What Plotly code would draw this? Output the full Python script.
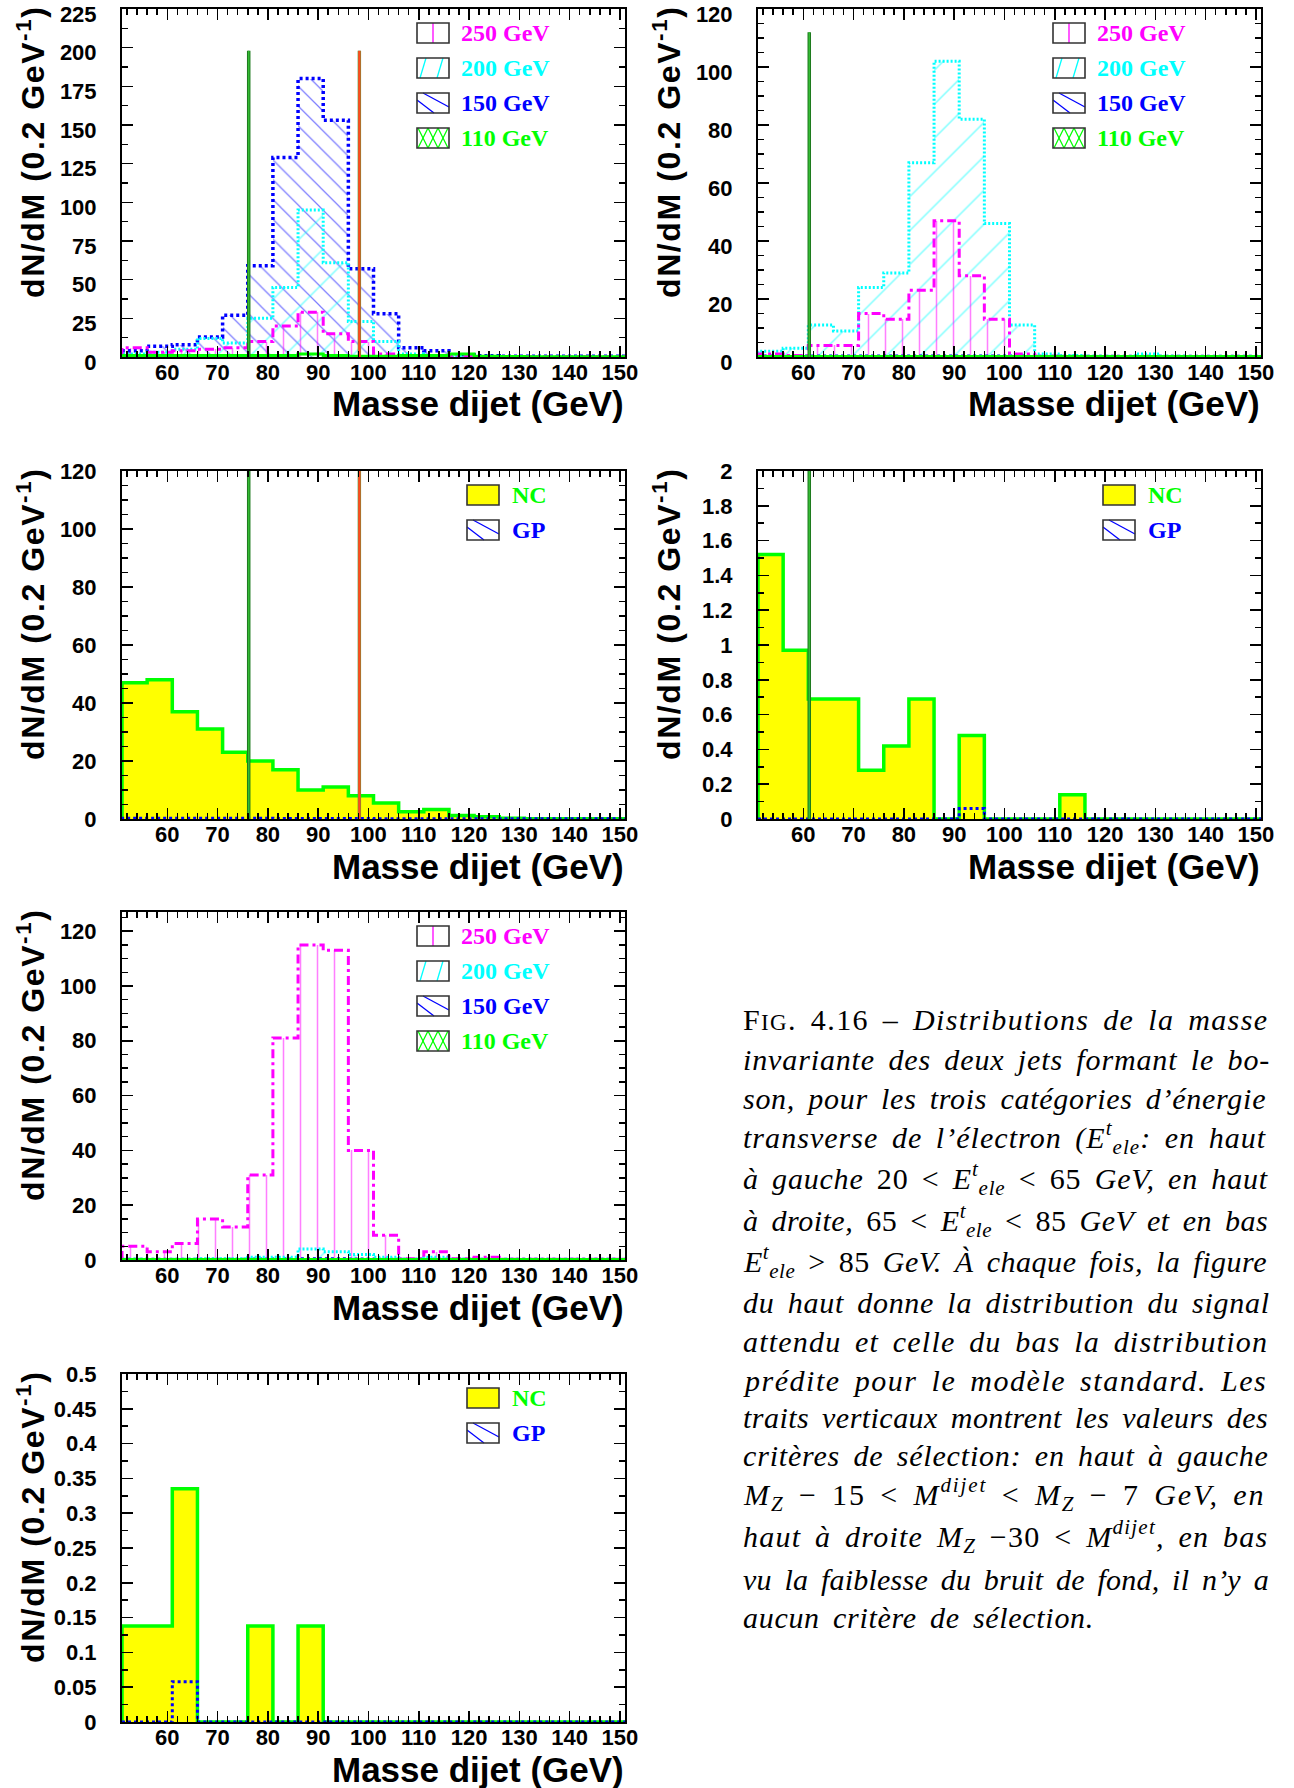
import plotly.graph_objects as go

# ---------------- data ----------------
BIN_LOW = [51, 56, 61, 66, 71, 76, 81, 86, 91, 96, 101, 106, 111, 116, 121, 126, 131, 136, 141, 146]
BIN_WIDTH = 5
X_RANGE = [51, 151]
MZ = 91.19

# top-left: 20 < Et < 65 GeV, signal
SIG250_A = [6, 3, 4, 5, 6, 10, 20, 29, 15, 10, 2, 1, 0.5, 0.5, 0.3, 0.2, 0.2, 0.1, 0.1, 0.1]
SIG200_A = [2, 3, 5, 12, 9, 25, 45, 95, 61, 23, 10, 2, 1, 0.5, 0.3, 0.2, 0.1, 0.1, 0.1, 0.1]
SIG150_A = [4, 7, 8, 13, 27, 59, 129, 180, 153, 57, 28, 6, 4, 1.5, 0.8, 0.5, 0.5, 0.5, 0.5, 0.5]
SIG110_A = [1, 1, 1, 1, 1, 1, 1, 2, 1, 0.5, 0.5, 1, 1, 2, 0.5, 0.3, 0.2, 0.2, 0.2, 0.2]
# top-right: 65 < Et < 85 GeV, signal
SIG250_B = [1, 0.5, 4, 4, 15, 13, 23, 47, 28, 13, 1, 0.3, 0, 0, 0, 0, 0, 0, 0, 0]
SIG200_B = [2, 3, 11, 9, 24, 29, 67, 102, 82, 46, 11, 1, 0.5, 0.3, 0.2, 1, 0.3, 0.2, 0.2, 0.2]
SIG150_B = [0.3, 0.3, 0.3, 0.3, 0.3, 0.3, 0.3, 0.3, 0.3, 0.3, 0.3, 0.2, 0.2, 0.2, 0.2, 0.2, 0.2, 0.2, 0.2, 0.2]
SIG110_B = [0.2, 0.2, 0.2, 0.2, 0.2, 0.2, 0.2, 0.2, 0.2, 0.2, 0.2, 0.2, 0.2, 0.2, 0.2, 0.2, 0.2, 0.2, 0.2, 0.2]
# Et > 85 GeV, signal
SIG250_C = [5, 3, 6, 15, 12, 31, 81, 115, 113, 40, 9, 0.5, 3, 0.5, 1, 0.3, 0.3, 0.3, 0.3, 0.3]
SIG200_C = [0.3, 0.2, 0.3, 0.5, 0.5, 1, 1, 4, 3, 2, 1, 0.3, 1, 0.3, 0.2, 0.1, 0.1, 0.1, 0.1, 0.1]
SIG150_C = [0.2, 0.2, 0.2, 0.2, 0.2, 0.3, 0.3, 0.4, 0.4, 0.3, 0.2, 0.2, 0.2, 0.2, 0.2, 0.2, 0.2, 0.2, 0.2, 0.2]
SIG110_C = [0.2, 0.2, 0.2, 0.2, 0.2, 0.2, 0.2, 0.2, 0.2, 0.2, 0.2, 0.2, 0.2, 0.2, 0.2, 0.2, 0.2, 0.2, 0.2, 0.2]
# standard model background
NC_A = [47, 48, 37, 31, 23, 20, 17, 10, 11, 8, 5.5, 2.5, 3.3, 1.2, 0.8, 0.3, 0.1, 0.1, 0.05, 0.05]
GP_A = [0.3, 0.3, 0.3, 0.3, 0.3, 0.3, 0.2, 0.2, 0.2, 0.2, 0.1, 0.1, 0.1, 0.1, 0.1, 0.1, 0.1, 0.1, 0.1, 0.1]
NC_B = [1.52, 0.97, 0.69, 0.69, 0.28, 0.42, 0.69, 0, 0.48, 0, 0, 0, 0.14, 0, 0, 0, 0, 0, 0, 0]
GP_B = [0, 0, 0, 0, 0, 0, 0, 0, 0.06, 0, 0, 0, 0, 0, 0, 0, 0, 0, 0, 0]
NC_C = [0.138, 0.138, 0.335, 0, 0, 0.138, 0, 0.138, 0, 0, 0, 0, 0, 0, 0, 0, 0, 0, 0, 0]
GP_C = [0, 0, 0.058, 0, 0, 0, 0, 0, 0, 0, 0, 0, 0, 0, 0, 0, 0, 0, 0, 0]

CUTS_A = [MZ - 15, MZ + 7]
CUTS_B = [MZ - 30]
CUT_TOP_SIG_A = 198
CUT_TOP_SIG_B = 112
CUT_TOP_BKG_A = 120
CUT_TOP_BKG_B = 2

SIGNAL_LABELS = ["250 GeV", "200 GeV", "150 GeV", "110 GeV"]
BKG_LABELS = ["NC", "GP"]
Y_TITLE = "dN/dM (0.2 GeV<sup>-1</sup>)"
X_TITLE = "Masse dijet (GeV)"

CAPTION = [
    "F<span style='font-size:23px'>IG</span>. 4.16 – <i>Distributions de la masse</i>",
    "<i>invariante des deux jets formant le bo-</i>",
    "<i>son, pour les trois catégories d’énergie</i>",
    "<i>transverse de l’électron (E<sup>t</sup><sub>ele</sub>: en haut</i>",
    "<i>à gauche</i> 20 &lt; <i>E<sup>t</sup><sub>ele</sub></i> &lt; 65 <i>GeV, en haut</i>",
    "<i>à droite,</i> 65 &lt; <i>E<sup>t</sup><sub>ele</sub></i> &lt; 85 <i>GeV et en bas</i>",
    "<i>E<sup>t</sup><sub>ele</sub></i> &gt; 85 <i>GeV. À chaque fois, la figure</i>",
    "<i>du haut donne la distribution du signal</i>",
    "<i>attendu et celle du bas la distribution</i>",
    "<i>prédite pour le modèle standard. Les</i>",
    "<i>traits verticaux montrent les valeurs des</i>",
    "<i>critères de sélection: en haut à gauche</i>",
    "<i>M<sub>Z</sub></i> − 15 &lt; <i>M<sup>dijet</sup></i> &lt; <i>M<sub>Z</sub></i> − 7 <i>GeV, en</i>",
    "<i>haut à droite M<sub>Z</sub></i> −30 &lt; <i>M<sup>dijet</sup>, en bas</i>",
    "<i>vu la faiblesse du bruit de fond, il n’y a</i>",
    "<i>aucun critère de sélection.</i>",
]

# ---------------- layout / style ----------------
W, H = 1294, 1788
OFF = 0
PW, PH = 503, 348
PANELS = {1: (122, 9), 2: (758, 9), 3: (122, 471), 4: (758, 471), 5: (122, 912), 6: (122, 1374)}
Y_AXES = {
    1: dict(range=[0, 225], dtick=25, minor=12.5, shift=5),
    2: dict(range=[0, 120], dtick=20, minor=5, shift=5),
    3: dict(range=[0, 120], dtick=20, minor=5, shift=0),
    4: dict(range=[0, 2], dtick=0.2, minor=0.1, shift=0),
    5: dict(range=[0, 127], dtick=20, minor=5, shift=0),
    6: dict(range=[0, 0.5], dtick=0.05, minor=0.025, shift=0),
}
MAG, CYA, BLU, GRN, YEL = "#ff00ff", "#00ffff", "#0000ff", "#00ff00", "#ffff00"
SANS = "Liberation Sans"
SERIF = "Liberation Serif"

STYLE = {
    "250": dict(color=MAG, shape="|", size=17, sol=0.09, dash="9px,4px,3px,4px", lw=3),
    "200": dict(color=CYA, shape="/", size=24, sol=0.06, dash="2px,2px", lw=3),
    "150": dict(color=BLU, shape="\\", size=14, sol=0.09, dash="3px,3px", lw=3.5),
    "110": dict(color=GRN, shape="x", size=10, sol=0.1, dash="solid", lw=3),
    "GP": dict(color=BLU, shape="\\", size=14, sol=0.09, dash="3px,3px", lw=3),
}


def PX(x):
    return (x - OFF) / W


def PY(y):
    return 1 - (y - OFF) / H


centers = [b + BIN_WIDTH / 2 for b in BIN_LOW]


def step_xy(vals):
    xs = [BIN_LOW[0]] + BIN_LOW + [BIN_LOW[-1] + BIN_WIDTH]
    ys = [0] + list(vals) + [0]
    return xs, ys


fig = go.Figure()


def ax(i):
    return ("x" if i == 1 else f"x{i}"), ("y" if i == 1 else f"y{i}")


def hatched(i, vals, key):
    s = STYLE[key]
    xa, ya = ax(i)
    fig.add_trace(go.Bar(
        x=centers, y=vals, width=BIN_WIDTH, xaxis=xa, yaxis=ya, showlegend=False,
        marker=dict(color="rgba(0,0,0,0)", line=dict(width=0),
                    pattern=dict(shape=s["shape"], fgcolor=s["color"], bgcolor="rgba(0,0,0,0)",
                                 size=s["size"], solidity=s["sol"], fillmode="overlay")),
        hoverinfo="skip"))


def outline(i, vals, key):
    s = STYLE[key]
    xa, ya = ax(i)
    xs, ys = step_xy(vals)
    fig.add_trace(go.Scatter(x=xs, y=ys, mode="lines", xaxis=xa, yaxis=ya, showlegend=False,
                             line=dict(color=s["color"], width=s["lw"], dash=s["dash"], shape="hv"),
                             hoverinfo="skip"))


def filled(i, vals):
    xa, ya = ax(i)
    xs, ys = step_xy(vals)
    fig.add_trace(go.Scatter(x=xs, y=ys, mode="lines", xaxis=xa, yaxis=ya, showlegend=False,
                             fill="tozeroy", fillcolor=YEL,
                             line=dict(color=GRN, width=3.5, shape="hv"), hoverinfo="skip"))


def cut_line(i, xval, top, kind):
    xa, ya = ax(i)
    if kind == "low":
        fig.add_trace(go.Scatter(x=[xval, xval], y=[0, top], mode="lines", xaxis=xa, yaxis=ya,
                                 showlegend=False, line=dict(color="#1f7a1f", width=3.5), hoverinfo="skip"))
        fig.add_trace(go.Scatter(x=[xval, xval], y=[0, top], mode="lines", xaxis=xa, yaxis=ya,
                                 showlegend=False, line=dict(color="#33bb33", width=1.5), hoverinfo="skip"))
    else:
        fig.add_trace(go.Scatter(x=[xval, xval], y=[0, top], mode="lines", xaxis=xa, yaxis=ya,
                                 showlegend=False, line=dict(color="#4aa040", width=3.4), hoverinfo="skip"))
        fig.add_trace(go.Scatter(x=[xval, xval], y=[0, top], mode="lines", xaxis=xa, yaxis=ya,
                                 showlegend=False, line=dict(color="#ff4a1e", width=2.4), hoverinfo="skip"))


def signal_panel(i, s250, s200, s150, s110):
    hatched(i, s150, "150")
    hatched(i, s200, "200")
    hatched(i, s250, "250")
    hatched(i, s110, "110")
    outline(i, s150, "150")
    outline(i, s200, "200")
    outline(i, s250, "250")
    outline(i, s110, "110")


def bkg_panel(i, nc, gp):
    filled(i, nc)
    hatched(i, gp, "GP")
    outline(i, gp, "GP")


signal_panel(1, SIG250_A, SIG200_A, SIG150_A, SIG110_A)
cut_line(1, CUTS_A[0], CUT_TOP_SIG_A, "low")
cut_line(1, CUTS_A[1], CUT_TOP_SIG_A, "high")
signal_panel(2, SIG250_B, SIG200_B, SIG150_B, SIG110_B)
cut_line(2, CUTS_B[0], CUT_TOP_SIG_B, "low")
bkg_panel(3, NC_A, GP_A)
cut_line(3, CUTS_A[0], CUT_TOP_BKG_A, "low")
cut_line(3, CUTS_A[1], CUT_TOP_BKG_A, "high")
bkg_panel(4, NC_B, GP_B)
cut_line(4, CUTS_B[0], CUT_TOP_BKG_B, "low")
signal_panel(5, SIG250_C, SIG200_C, SIG150_C, SIG110_C)
bkg_panel(6, NC_C, GP_C)

# ---------------- axes ----------------
tickfont = dict(family=SANS, size=22, color="black", weight="bold")
layout = dict(width=W, height=H, margin=dict(l=0, r=0, t=0, b=0, pad=0, autoexpand=False), autosize=False,
              paper_bgcolor="white", plot_bgcolor="white", barmode="overlay", bargap=0,
              showlegend=False)
for i, (x0, y0) in PANELS.items():
    xk = "xaxis" if i == 1 else f"xaxis{i}"
    yk = "yaxis" if i == 1 else f"yaxis{i}"
    xa, ya = ax(i)
    layout[xk] = dict(domain=[PX(x0), PX(x0 + PW)], anchor=ya, range=X_RANGE, automargin=False,
                      showline=True, linecolor="black", linewidth=2, mirror="allticks",
                      ticks="inside", ticklen=11, tickwidth=1.5, tickcolor="black",
                      tick0=60, dtick=10, showgrid=False, zeroline=False,
                      minor=dict(dtick=2, ticklen=6, tickwidth=1.5, tickcolor="black", ticks="inside"),
                      tickfont=tickfont, ticklabelstandoff=-5, ticklabeloverflow="allow", fixedrange=True)
    ys = Y_AXES[i]
    layout[yk] = dict(domain=[PY(y0 + PH), PY(y0)], anchor=xa, range=ys["range"], automargin=False,
                      showline=True, linecolor="black", linewidth=2, mirror="allticks",
                      ticks="inside", ticklen=11, tickwidth=1.5, tickcolor="black",
                      tick0=0, dtick=ys["dtick"], showgrid=False, zeroline=False,
                      minor=dict(dtick=ys["minor"], ticklen=6, tickwidth=1.5, tickcolor="black",
                                 ticks="inside"),
                      tickfont=tickfont, ticklabelstandoff=19, ticklabelshift=ys["shift"],
                      ticklabeloverflow="allow", fixedrange=True)

# ---------------- annotations / legend ----------------
shapes, annotations = [], []


def sline(xa, ya, xb, yb, color, width=1.3):
    shapes.append(dict(type="line", xref="paper", yref="paper", x0=PX(xa), y0=PY(ya), x1=PX(xb), y1=PY(yb),
                       line=dict(color=color, width=width)))


def swatch(bx0, by0, bx1, by1, hatch, color, fill=None):
    if fill:
        shapes.append(dict(type="rect", xref="paper", yref="paper", x0=PX(bx0), y0=PY(by1), x1=PX(bx1),
                           y1=PY(by0), fillcolor=fill, line=dict(width=0)))
    if hatch == "|":
        m = (bx0 + bx1) / 2
        sline(m, by0, m, by1, color)
    elif hatch == "/":
        sline(bx0 + 3, by1, bx0 + 9, by0, color)
        sline(bx0 + 20, by1, bx0 + 26, by0, color)
    elif hatch == "\\":
        sline(bx0 + 6, by0, bx1, by0 + 14, color)
        sline(bx0, by0 + 7, bx0 + 17, by1, color)
    elif hatch == "x":
        for k in (0, 10, 20):
            sline(bx0 + k + 1, by1, bx0 + k + 11, by0, color)
            sline(bx0 + k + 1, by0, bx0 + k + 11, by1, color)
    shapes.append(dict(type="rect", xref="paper", yref="paper", x0=PX(bx0), y0=PY(by1), x1=PX(bx1),
                       y1=PY(by0), line=dict(color="#333333", width=1.6)))


def label(x, y, text, color):
    annotations.append(dict(xref="paper", yref="paper", x=PX(x), y=PY(y), text=text, showarrow=False,
                            xanchor="left", yanchor="middle",
                            font=dict(family=SERIF, size=24, color=color, weight="bold")))


SIG_KEYS = ["250", "200", "150", "110"]
for i in (1, 2, 5):
    x0, y0 = PANELS[i]
    for r, (lab, key) in enumerate(zip(SIGNAL_LABELS, SIG_KEYS)):
        cy = y0 + 24 + 35 * r
        swatch(x0 + 295, cy - 10, x0 + 327, cy + 10, STYLE[key]["shape"], STYLE[key]["color"])
        label(x0 + 337, cy, lab, STYLE[key]["color"])
for i in (3, 4, 6):
    x0, y0 = PANELS[i]
    cy = y0 + 24
    swatch(x0 + 345, cy - 10, x0 + 377, cy + 10, None, None, fill=YEL)
    label(x0 + 388, cy, BKG_LABELS[0], GRN)
    cy = y0 + 59
    swatch(x0 + 345, cy - 10, x0 + 377, cy + 10, "\\", BLU)
    label(x0 + 388, cy, BKG_LABELS[1], BLU)

for i, (x0, y0) in PANELS.items():
    annotations.append(dict(xref="paper", yref="paper", x=PX(x0 - 91), y=PY(y0 - 5),
                            text="<span style='letter-spacing:1.6px'>" + Y_TITLE + "</span>",
                            textangle=-90, showarrow=False, xanchor="center", yanchor="top",
                            font=dict(family=SANS, size=32, color="black", weight="bold")))
    annotations.append(dict(xref="paper", yref="paper", x=PX(x0 + PW + 1), y=PY(y0 + PH + 47), text=X_TITLE,
                            showarrow=False, xanchor="right", yanchor="middle",
                            font=dict(family=SANS, size=35, color="black", weight="bold")))

CAPTION_X = 741
CAPTION_Y = [1020, 1059, 1098, 1137, 1178, 1220, 1261, 1302, 1341, 1380, 1417, 1455, 1494, 1536, 1579, 1617]
CAPTION_SPACING = [1.38, 0.87, 0.72, 1.04, 0.8, 0.52, 0.52, 0.73, 1.2, 1.53, 0.46, 0.82, 1.9, 1.25, 0.22, 0.7]
for text, cy, ls in zip(CAPTION, CAPTION_Y, CAPTION_SPACING):
    annotations.append(dict(xref="paper", yref="paper", x=PX(CAPTION_X), y=PY(cy),
                            text=f"<span style='letter-spacing:{ls}px; word-spacing:5px'>" + text + "</span>",
                            showarrow=False, xanchor="left", yanchor="middle",
                            font=dict(family=SERIF, size=30, color="black")))

layout["shapes"] = shapes
layout["annotations"] = annotations
fig.update_layout(**layout)
fig.write_html("out.html", config={"displayModeBar": False, "staticPlot": True},
               post_script="document.body.style.margin='0px';")
